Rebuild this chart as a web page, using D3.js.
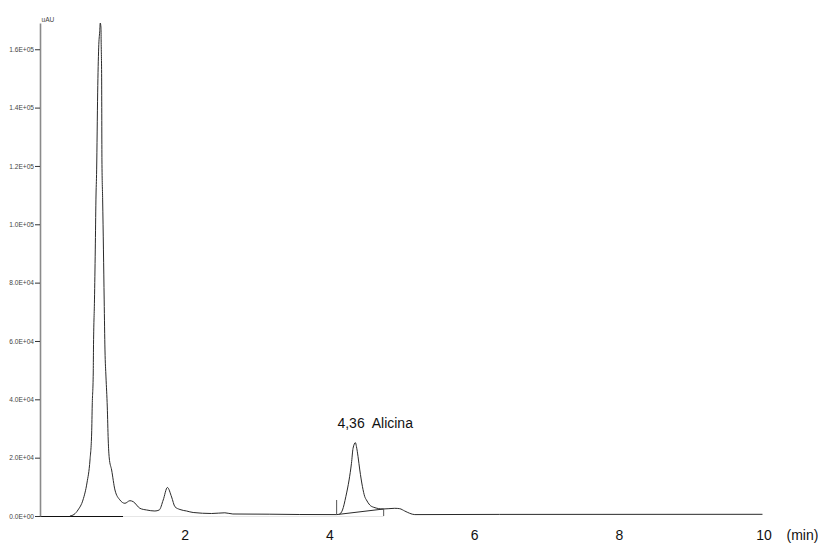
<!DOCTYPE html>
<html>
<head>
<meta charset="utf-8">
<script src="https://cdn.jsdelivr.net/npm/d3@7"></script>
<style>
  html, body { margin: 0; padding: 0; background: #fff; }
  svg { display: block; }
</style>
</head>
<body>
<svg id="chart" width="818" height="543"></svg>
<script>
// Retention time (min) of the sampled detector trace
const times = [
  0.414, 0.470, 0.525, 0.594, 0.649, 0.691, 0.714, 0.722, 0.736, 0.739,
  0.753, 0.764, 0.773, 0.783, 0.797, 0.811, 0.825, 0.833, 0.843, 0.845,
  0.852, 0.856, 0.866, 0.877, 0.887, 0.898, 0.912, 0.930, 0.943, 0.957,
  0.990, 1.036, 1.105, 1.174, 1.243, 1.289, 1.381, 1.474, 1.588, 1.648,
  1.703, 1.761, 1.819, 1.865, 1.934, 2.026, 2.117, 2.372, 2.555, 2.666,
  3.177, 3.591, 4.102, 4.134, 4.181, 4.227, 4.272, 4.305, 4.327, 4.360,
  4.374, 4.396, 4.420, 4.457, 4.489, 4.512, 4.558, 4.613, 4.742, 4.903,
  4.972, 5.041, 5.110, 5.180, 6.354, 9.986
];
// Detector response (uAU) at each retention time
const absorbance = [
  0, 514, 2057, 5486, 11316, 19202, 28461, 38062, 49035, 56921,
  74066, 91211, 108356, 118643, 145047, 160477, 165963, 169000, 167335, 163220,
  150190, 122072, 108356, 91211, 74066, 56921, 47663, 37376, 26060, 19888,
  15773, 8915, 5486, 4355, 5246, 4903, 2640, 2057, 1714, 2057,
  5486, 9773, 6515, 3189, 2229, 1714, 1200, 857, 1097, 686,
  617, 514, 480, 583, 2057, 6618, 12344, 18071, 23214, 25134,
  23763, 20334, 15773, 10047, 6618, 5486, 3772, 2983, 2400, 2640,
  2503, 1714, 926, 480, 549, 583
];

// Integrated peak: start / end markers and the drawn integration baseline
const peakTime = 4.36;
const peakName = "Alicina";
const peakStart = [4.10, 480, 5486];   // time, marker bottom, marker top
const peakEnd = [4.75, 0, 2400];
const integrationBase = [[4.134, 583], [4.75, 2400]];

const xTicks = [2, 4, 6, 8, 10];
const yTicks = [0, 20000, 40000, 60000, 80000, 100000, 120000, 140000, 160000];
const yTickLabels = ["0.0E+00", "2.0E+04", "4.0E+04", "6.0E+04", "8.0E+04",
                     "1.0E+05", "1.2E+05", "1.4E+05", "1.6E+05"];
const yUnit = "uAU";
const xUnit = "(min)";

const svg = d3.select("#chart");
const sans = "'Liberation Sans', Arial, sans-serif";

const x = d3.scaleLinear().domain([0, 10]).range([40, 763.5]);
const y = d3.scaleLinear().domain([0, 169000]).range([516, 23]);

// Time baseline: solid near the origin, faint beyond
svg.append("line")
  .attr("x1", x(0)).attr("x2", x(1.15))
  .attr("y1", y(0) + 0.5).attr("y2", y(0) + 0.5)
  .attr("stroke", "#111").attr("stroke-width", 1);
svg.append("line")
  .attr("x1", x(1.15)).attr("x2", x(4.75))
  .attr("y1", y(0) + 0.5).attr("y2", y(0) + 0.5)
  .attr("stroke", "#e6e6e6").attr("stroke-width", 1);

// Y axis
const yAxis = d3.axisLeft(y)
  .tickValues(yTicks)
  .tickFormat((d, i) => yTickLabels[i])
  .tickSize(5)
  .tickSizeOuter(0)
  .tickPadding(1);
const gy = svg.append("g")
  .attr("transform", "translate(40,0)")
  .call(yAxis);
gy.select(".domain").attr("stroke", "#8a8a8a").attr("stroke-width", 1.6);
gy.selectAll(".tick line").attr("stroke", "#333");
gy.selectAll(".tick text")
  .attr("fill", "#444")
  .style("font-family", sans)
  .style("font-size", "6.6px");

svg.append("text")
  .attr("x", 41.5).attr("y", 22)
  .attr("fill", "#444")
  .style("font-family", sans)
  .style("font-size", "6.6px")
  .text(yUnit);

// X axis labels
const xAxis = d3.axisBottom(x)
  .tickValues(xTicks)
  .tickFormat(d3.format("d"))
  .tickSize(0)
  .tickPadding(13.8);
const gx = svg.append("g")
  .attr("transform", `translate(0,${y(0)})`)
  .call(xAxis);
gx.select(".domain").remove();
gx.selectAll(".tick text")
  .attr("fill", "#111")
  .style("font-family", sans)
  .style("font-size", "14px");

svg.append("text")
  .attr("x", 786.5).attr("y", 539.5)
  .attr("fill", "#111")
  .style("font-family", sans)
  .style("font-size", "14px")
  .text(xUnit);

// Chromatogram trace
const trace = times.map((t, i) => [t, absorbance[i]]);
const line = d3.line()
  .x(d => x(d[0]))
  .y(d => y(d[1]))
  .curve(d3.curveMonotoneX);
svg.append("path")
  .datum(trace)
  .attr("fill", "none")
  .attr("stroke", "#2a2a2a")
  .attr("stroke-width", 1)
  .attr("d", line);

// Integration baseline and peak start/end markers
svg.append("path")
  .datum(integrationBase)
  .attr("fill", "none")
  .attr("stroke", "#2a2a2a")
  .attr("stroke-width", 1)
  .attr("d", d3.line().x(d => x(d[0])).y(d => y(d[1])));
[peakStart, peakEnd].forEach(m => {
  svg.append("line")
    .attr("x1", x(m[0])).attr("x2", x(m[0]))
    .attr("y1", y(m[1])).attr("y2", y(m[2]))
    .attr("stroke", "#555").attr("stroke-width", 1);
});

// Peak label
const fmtTime = t => t.toFixed(2).replace(".", ",");
svg.append("text")
  .attr("x", x(peakTime) - 18)
  .attr("y", 428)
  .attr("fill", "#111")
  .style("font-family", sans)
  .style("font-size", "14px")
  .style("white-space", "pre")
  .text(fmtTime(peakTime) + "  " + peakName);
</script>
</body>
</html>
